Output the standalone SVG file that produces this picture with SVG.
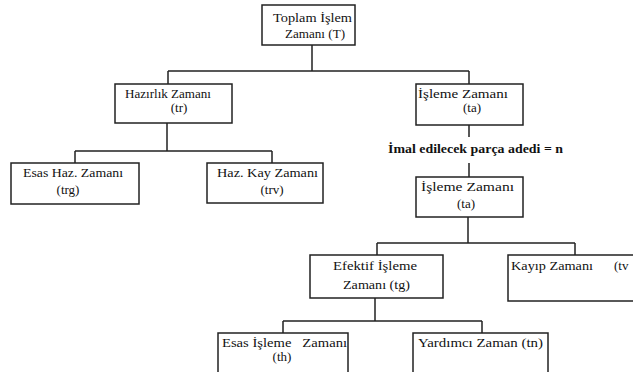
<svg xmlns="http://www.w3.org/2000/svg" width="633" height="372" viewBox="0 0 633 372">
<style>
.box{fill:#fff;stroke:#222;stroke-width:1.5}
.ln{fill:none;stroke:#222;stroke-width:1.5}
text{font-family:"Liberation Serif","Times New Roman",serif;font-size:13px;fill:#111}
.c{text-anchor:middle}
.b{font-weight:bold;font-size:13px}
</style>
<rect width="633" height="372" fill="#fff"/>
<g id="connectors">
<path class="ln" d="M312,45 V71 M168,71 H469 M168,71 V84 M469,71 V84"/>
<path class="ln" d="M167,123 V151 M75,151 H272 M75,151 V163 M272,151 V163"/>
<path class="ln" d="M469,125 V137 M469,163 V177"/>
<path class="ln" d="M468,217 V243 M377,243 H575 M377,243 V255 M575,243 V255"/>
<path class="ln" d="M375,298 V321 M283,321 H482 M283,321 V333 M482,321 V333"/>
</g>
<g id="n-toplam">
<rect class="box" x="262" y="5" width="93" height="40"/>
<text x="273" y="22" textLength="79" lengthAdjust="spacingAndGlyphs">Toplam İşlem</text>
<text x="285" y="38" textLength="60" lengthAdjust="spacingAndGlyphs">Zamanı (T)</text>
</g>
<g id="n-hazirlik">
<rect class="box" x="115" y="84" width="117" height="39"/>
<text x="125" y="98" textLength="86" lengthAdjust="spacingAndGlyphs">Hazırlık Zamanı</text>
<text class="c" x="179" y="112">(tr)</text>
</g>
<g id="n-isleme1">
<rect class="box" x="416" y="84" width="107" height="41"/>
<text x="418" y="98" textLength="90" lengthAdjust="spacingAndGlyphs">İşleme Zamanı</text>
<text class="c" x="472" y="112">(ta)</text>
</g>
<g id="n-esashaz">
<rect class="box" x="11" y="163" width="128" height="41"/>
<text x="23" y="177" textLength="100" lengthAdjust="spacingAndGlyphs">Esas Haz. Zamanı</text>
<text class="c" x="68" y="194">(trg)</text>
</g>
<g id="n-hazkay">
<rect class="box" x="207" y="163" width="116" height="40"/>
<text x="217" y="177" textLength="101" lengthAdjust="spacingAndGlyphs">Haz. Kay Zamanı</text>
<text class="c" x="272" y="194">(trv)</text>
</g>
<g id="label-imal">
<text class="b" x="388" y="153" textLength="175" lengthAdjust="spacingAndGlyphs">İmal edilecek parça adedi = n</text>
</g>
<g id="n-isleme2">
<rect class="box" x="416" y="177" width="107" height="40"/>
<text x="421" y="191" textLength="93" lengthAdjust="spacingAndGlyphs">İşleme Zamanı</text>
<text class="c" x="466" y="208">(ta)</text>
</g>
<g id="n-efektif">
<rect class="box" x="310" y="255" width="133" height="43"/>
<text x="333" y="270" textLength="84" lengthAdjust="spacingAndGlyphs">Efektif İşleme</text>
<text x="343" y="289" textLength="67" lengthAdjust="spacingAndGlyphs">Zamanı (tg)</text>
</g>
<g id="n-kayip">
<rect class="box" x="508" y="255" width="140" height="46"/>
<text x="511" y="270" textLength="82" lengthAdjust="spacingAndGlyphs">Kayıp Zamanı</text>
<text x="614" y="270">(tv</text>
</g>
<g id="n-esasisleme">
<rect class="box" x="218" y="333" width="130" height="60"/>
<text x="222" y="347" xml:space="preserve" textLength="125" lengthAdjust="spacingAndGlyphs">Esas İşleme   Zamanı</text>
<text class="c" x="282" y="361">(th)</text>
</g>
<g id="n-yardimci">
<rect class="box" x="413" y="333" width="135" height="60"/>
<text x="418" y="347" textLength="125" lengthAdjust="spacingAndGlyphs">Yardımcı Zaman (tn)</text>
</g>
</svg>
